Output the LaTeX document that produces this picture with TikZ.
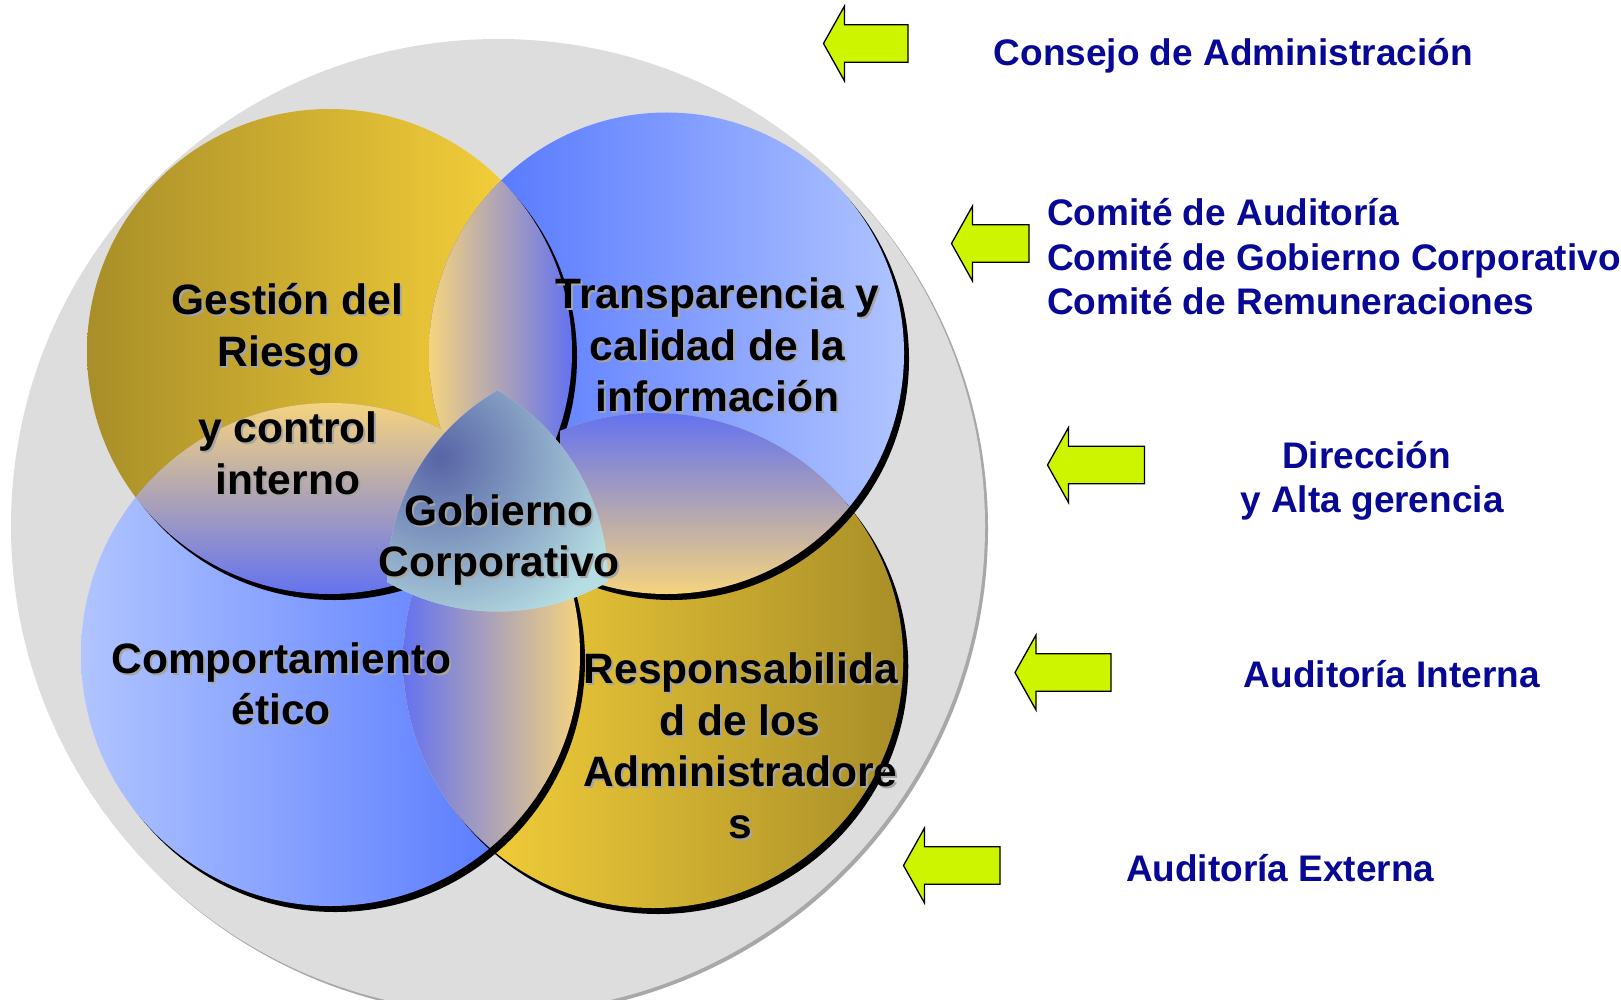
\documentclass[tikz,border=0pt]{standalone}
\usepackage{fontspec}
\setmainfont{Liberation Sans}
\definecolor{greyc}{RGB}{221,221,221}
\definecolor{greysh}{RGB}{168,168,168}
\definecolor{golddark}{RGB}{168,142,40}
\definecolor{goldlight}{RGB}{255,216,60}
\definecolor{bluedark}{RGB}{74,110,255}
\definecolor{bluelight}{RGB}{176,196,255}
\definecolor{lensyel}{RGB}{245,211,126}
\definecolor{lensblue}{RGB}{100,114,240}
\definecolor{gcDark}{RGB}{88,100,166}
\definecolor{gcLight}{RGB}{182,222,226}
\definecolor{navy}{RGB}{8,8,150}
\definecolor{lime}{RGB}{206,245,0}
\definecolor{txtsh}{RGB}{165,165,165}
\newcommand\pTL{(329.5,351.5) ellipse [x radius=242.5pt, y radius=242.5pt]}
\newcommand\pTR{(666.5,353.25) ellipse [x radius=237.5pt, y radius=240.75pt]}
\newcommand\pBL{(330.5,654.5) ellipse [x radius=249.5pt, y radius=251.5pt]}
\newcommand\pBR{(653.25,660.5) ellipse [x radius=250pt, y radius=247.5pt]}
\newcommand\ctext[4]{\node[ctxt,text=txtsh] (#1s) at (#2+2,#3+2) {#4};\node[ctxt] (#1) at (#2,#3) {#4};}
\newcommand\larrow[3]{\draw[arrowbox] (#1,#2) -- (#1+21,#2-37.5) -- (#1+21,#2-18.7) -- (#3,#2-18.7) -- (#3,#2+18.7) -- (#1+21,#2+18.7) -- (#1+21,#2+37.5) -- cycle;}
\begin{document}
\begin{tikzpicture}[x=1pt,y=-1pt,
  ctxt/.style={anchor=base,inner sep=0pt,font=\fontsize{42.5}{51}\selectfont\bfseries,text=black},
  navytxt/.style={anchor=base,inner sep=0pt,font=\fontsize{37}{44.5}\selectfont\bfseries,text=navy},
  arrowbox/.style={fill=lime,draw=black,line width=1.3pt,line join=miter},
  shad/.style={shift={(5,6)}}]
\useasboundingbox (0,0) rectangle (1621,1000);
\fill[white] (0,0) rectangle (1621,1000);
\begin{scope}
\clip (0,0) rectangle (1621,1000);
% big grey disc
\fill[greysh] (501,529) circle (487pt);
\fill[greyc] (498,526) circle (487pt);
% circles with shadows
\fill[black,shad] \pTL;
\shade[left color=golddark,right color=goldlight] \pTL;
\fill[black,shad] \pTR;
\shade[left color=bluedark,right color=bluelight] \pTR;
\fill[black,shad] \pBL;
\shade[left color=bluelight,right color=bluedark] \pBL;
\fill[black,shad] \pBR;
\shade[left color=goldlight,right color=golddark] \pBR;
% top lens
\begin{scope}[shad]\clip \pTL; \fill[black] \pTR;\end{scope}
\begin{scope}\clip \pTL; \clip \pTR;
\shade[left color=lensyel,right color=lensblue] (429,182) rectangle (572,522);\end{scope}
% left lens
\begin{scope}[shad]\clip \pTL; \fill[black] \pBL;\end{scope}
\begin{scope}\clip \pTL; \clip \pBL;
\shade[top color=lensyel,bottom color=lensblue] (128,403) rectangle (560,594);\end{scope}
% right lens
\begin{scope}[shad]\clip \pTR; \fill[black] \pBR;\end{scope}
\begin{scope}\clip \pTR; \clip \pBR;
\shade[top color=lensblue,bottom color=lensyel] (560,413) rectangle (860,594);\end{scope}
% bottom lens
\begin{scope}[shad]\clip \pBL; \fill[black] \pBR;\end{scope}
\begin{scope}\clip \pBL; \clip \pBR;
\shade[left color=lensblue,right color=lensyel] (403,590) rectangle (580,856);\end{scope}
% central Reuleaux triangle
\begin{scope}
\clip (387,581.9) circle (221pt);
\clip (608,581.9) circle (221pt);
\clip (497.5,390.5) circle (221pt);
\fill[gcLight] (380,385) rectangle (615,615);
\shade[inner color=gcDark,outer color=gcLight] (440,457) circle (190pt);
\end{scope}
\end{scope}
% texts in circles
\ctext{g1}{287.4}{314.5}{Gestión del}
\ctext{g2}{288.4}{366.5}{Riesgo}
\ctext{g3}{288}{442.5}{y control}
\ctext{g4}{288}{494}{interno}
\ctext{t1}{717.5}{308}{Transparencia y}
\ctext{t2}{717.5}{360}{calidad de la}
\ctext{t3}{717.5}{411.5}{información}
\ctext{gc1}{499}{525}{Gobierno}
\ctext{gc2}{499.3}{576}{Corporativo}
\ctext{c1}{281.5}{673}{Comportamiento}
\ctext{c2}{281.2}{724.5}{ético}
\ctext{r1}{741}{683}{Responsabilida}
\ctext{r2}{740}{735}{d de los}
\ctext{r3}{740.2}{786.5}{Administradore}
\ctext{r4}{740.2}{838}{s}
% arrows
\larrow{823.5}{43.5}{908}
\larrow{951.5}{243.5}{1029}
\larrow{1047.5}{465}{1144.5}
\larrow{1015}{672.5}{1111}
\larrow{903.5}{865.5}{1000}
% right-hand labels
\node[navytxt,anchor=base west] (consejo) at (993.5,65.5) {Consejo de Administración};
\node[navytxt,anchor=base west] (com1) at (1047,225.5) {Comité de Auditoría};
\node[navytxt,anchor=base west] (com2) at (1047,270) {Comité de Gobierno Corporativo};
\node[navytxt,anchor=base west] (com3) at (1047,314.5) {Comité de Remuneraciones};
\node[navytxt] (dir1) at (1366.5,468.5) {Dirección};
\node[navytxt] (dir2) at (1372,512.5) {y Alta gerencia};
\node[navytxt,anchor=base west] (audi) at (1243.6,687.5) {Auditoría Interna};
\node[navytxt,anchor=base west] (aude) at (1125.8,881) {Auditoría Externa};
\end{tikzpicture}
\end{document}
